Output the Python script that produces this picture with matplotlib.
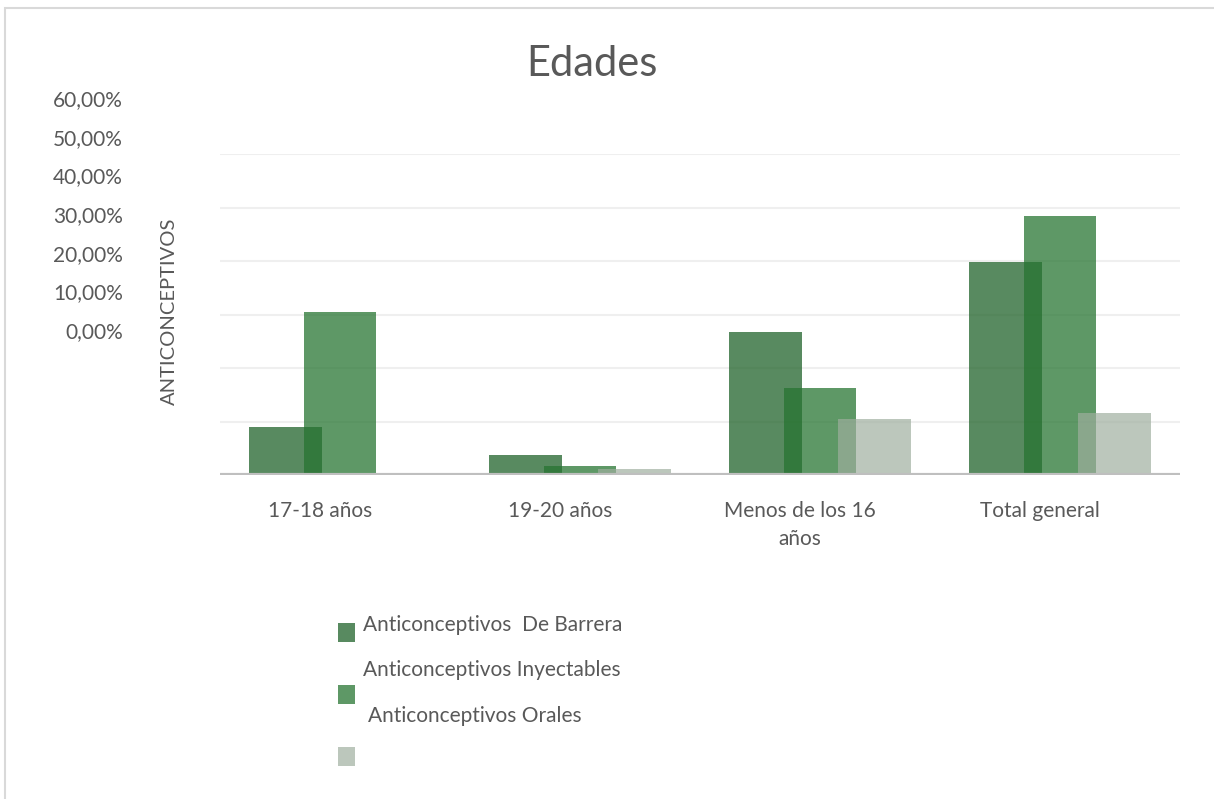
import matplotlib
matplotlib.use("Agg")
import matplotlib.pyplot as plt
import matplotlib.transforms as mtransforms
from matplotlib.patches import Rectangle
import numpy as np

# data (percent)
categories = ["17-18 años", "19-20 años", "Menos de los 16\naños", "Total general"]
series_names = ["Anticonceptivos  De Barrera", "Anticonceptivos Inyectables", "Anticonceptivos Orales"]
barrera = [9.0, 3.7, 26.7, 39.8]
inyectables = [30.5, 1.7, 16.3, 48.4]
orales = [0.0, 1.1, 10.5, 11.6]
y_tick_labels = ["60,00%", "50,00%", "40,00%", "30,00%", "20,00%", "10,00%", "0,00%"]

colors = ["#1e6128", "#267431", "#9eae9e"]
alphas = [0.74, 0.74, 0.69]
text_col = "#595959"
FONT = "Lato"

W, H = 1214, 799
fig = plt.figure(figsize=(W / 100, H / 100), dpi=100)
fig.patch.set_facecolor("white")

# light frame, only top and left visible in the reference
fig.patches.append(Rectangle((5 / W, -0.1), 1.2, 1 - 8 / H + 0.1, transform=fig.transFigure,
                             fill=False, edgecolor="#d9d9d9", lw=1.5))

ax = fig.add_axes([220 / W, 1 - 475 / H, 960 / W, 321 / H])
x = np.arange(len(categories))
bw = 0.304
off = 0.229
for i, vals in enumerate([barrera, inyectables, orales]):
    ax.bar(x + (i - 1) * off, vals, width=bw, color=colors[i], alpha=alphas[i],
           linewidth=0, zorder=3)

ax.set_xlim(-0.5, 3.5)
ax.set_ylim(0, 60)
ax.set_yticks(np.arange(10, 61, 10))
ax.yaxis.grid(True, color="#efefef", lw=1.5, zorder=0)
ax.tick_params(axis="y", length=0, labelleft=False)
ax.axhline(0, color="#bfbfbf", lw=3, zorder=4)
for s in ax.spines.values():
    s.set_visible(False)

ax.set_xticks(x)
ax.set_xticklabels(categories, fontsize=15, color=text_col, family=FONT, linespacing=1.45)
ax.tick_params(axis="x", length=0, pad=19)
shift = mtransforms.ScaledTranslation(-20 / 100, 0, fig.dpi_scale_trans)
for lab in ax.get_xticklabels():
    lab.set_transform(lab.get_transform() + shift)
    lab.set_verticalalignment("top")

# y tick labels sit above the grid, as in the reference
for k, lab in enumerate(y_tick_labels):
    fig.text(123 / W, 1 - (100 + k * 38.7) / H, lab, ha="right", va="center",
             fontsize=15, color=text_col, family=FONT)

fig.text(169 / W, 1 - 311 / H, "ANTICONCEPTIVOS", rotation=90, ha="center", va="center",
         fontsize=14.5, color=text_col, family=FONT)

fig.text(592 / W, 1 - 64 / H, "Edades", ha="center", va="center",
         fontsize=30, color=text_col, family=FONT)

# legend, squares and texts are offset in the reference
sq_tops = [623, 685, 747]
txt_pos = [(363, 625), (363, 670), (368, 716)]
for i in range(3):
    fig.patches.append(Rectangle((338 / W, 1 - (sq_tops[i] + 19) / H), 17 / W, 19 / H,
                                 transform=fig.transFigure, facecolor=colors[i],
                                 alpha=alphas[i], edgecolor="none"))
    tx, ty = txt_pos[i]
    fig.text(tx / W, 1 - ty / H, series_names[i], ha="left", va="center",
             fontsize=15, color=text_col, family=FONT)

fig.savefig("out.png", dpi=100)
